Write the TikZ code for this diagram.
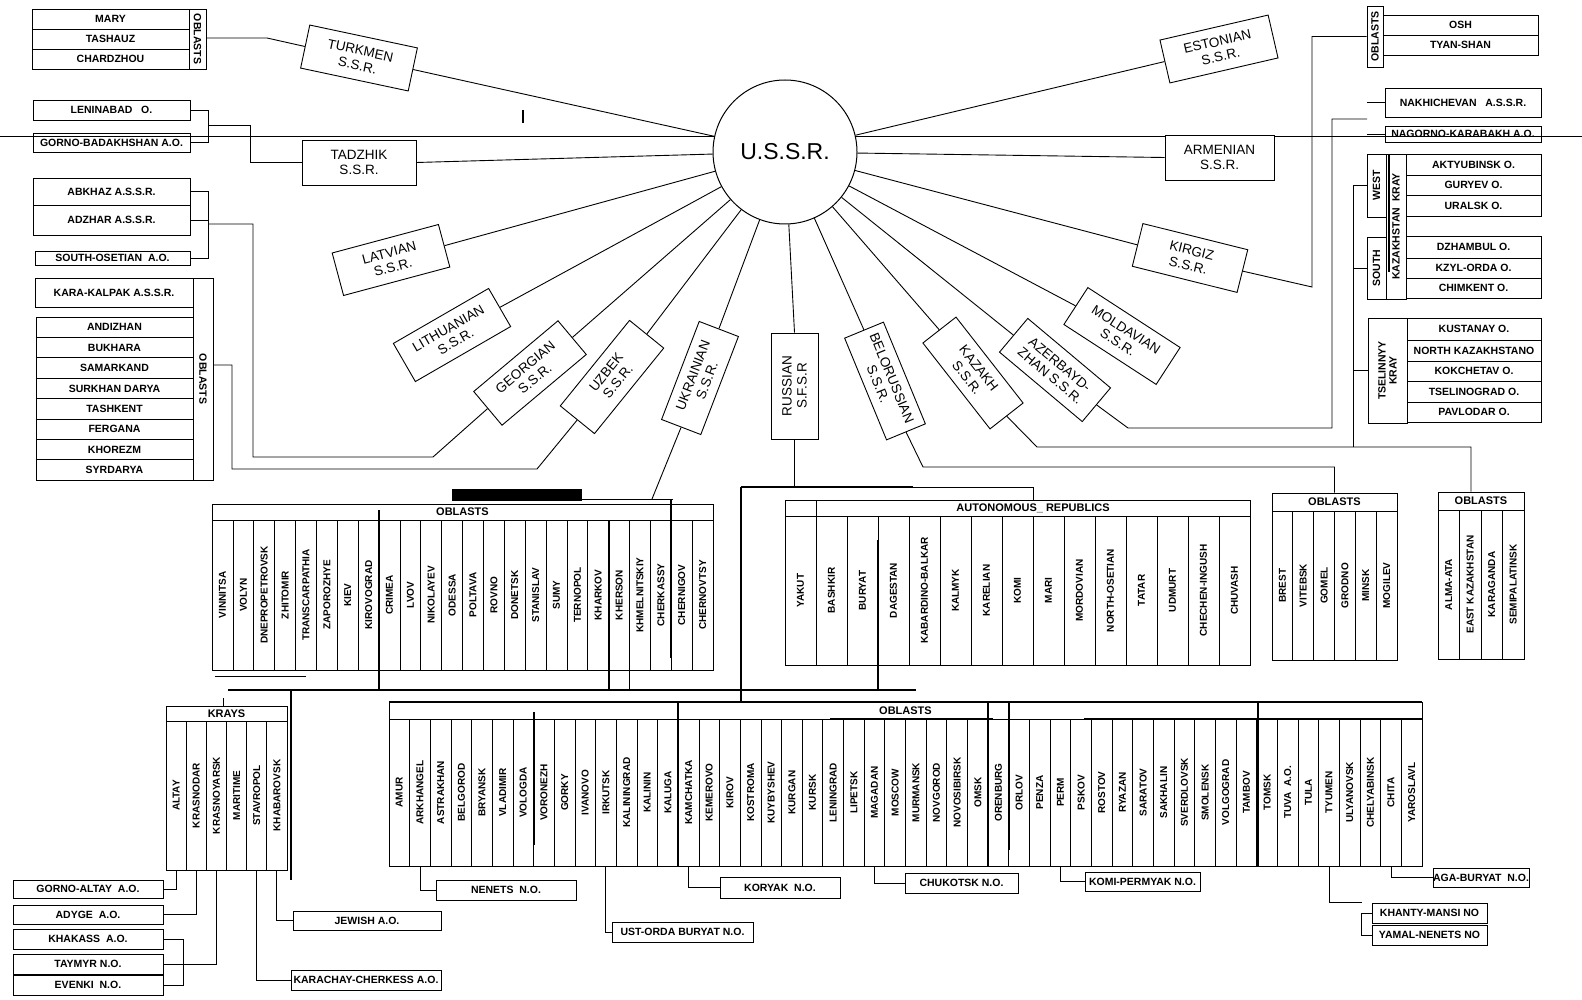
\documentclass[tikz,border=0pt]{standalone}
\usepackage{fontspec}
\setmainfont{Liberation Sans}
\usetikzlibrary{calc}
\tikzset{
  ln/.style={line width=0.9pt},
  thk/.style={line width=1.8pt},
  tb/.style={line width=0.75pt},
  ssr/.style={draw, line width=0.9pt, fill=white, minimum width=110pt, minimum height=44pt, inner sep=0pt, align=center, font=\fontsize{13.5}{15}\selectfont},
  hb/.style={draw, line width=0.75pt, inner sep=0pt, font=\bfseries\fontsize{10.5}{12}\selectfont},
  strip/.style={draw, line width=0.75pt, inner sep=0pt, align=center, font=\bfseries\fontsize{10.5}{11}\selectfont},
  vl/.style={inner sep=0pt, rotate=90, font=\bfseries\fontsize{10}{11}\selectfont},
  hdr/.style={inner sep=0pt, font=\bfseries\fontsize{11}{12}\selectfont},
}
\newcommand{\ubox}[6]{%
  \pgfmathsetmacro\myw{#4-#2}\pgfmathsetmacro\myh{#5-#3}%
  \pgfmathsetmacro\myx{(#2+#4)/2}\pgfmathsetmacro\myy{(#3+#5)/2}%
  \node[hb,minimum width=\myw pt,minimum height=\myh pt] (#1) at (\myx,\myy) {#6};}
\newcommand{\ustrip}[7]{%
  \pgfmathsetmacro\myw{#4-#2}\pgfmathsetmacro\myh{#5-#3}%
  \pgfmathsetmacro\myx{(#2+#4)/2}\pgfmathsetmacro\myy{(#3+#5)/2}%
  \node[strip,rotate=#7,minimum width=\myh pt,minimum height=\myw pt] (#1) at (\myx,\myy) {#6};}
\newcommand{\coltab}[8]{%
  \pgfmathsetmacro\myw{#3-#2}\pgfmathsetmacro\myh{#6-#4}%
  \pgfmathsetmacro\myx{(#2+#3)/2}\pgfmathsetmacro\myy{(#4+#6)/2}%
  \node[draw,tb,inner sep=0pt,minimum width=\myw pt,minimum height=\myh pt] (#1) at (\myx,\myy) {};
  \draw[tb] (#2,#5) -- (#3,#5);
  \pgfmathsetmacro\mycw{(#3-#2)/#7}%
  \foreach \lab [count=\i] in {#8} {
    \pgfmathsetmacro\xa{#2+\i*\mycw}
    \pgfmathsetmacro\xc{#2+(\i-0.5)*\mycw}
    \ifnum\i<#7 \draw[tb] (\xa,#5) -- (\xa,#6); \fi
    \node[vl] (#1-\i) at (\xc,{(#5+#6)/2}) {\lab};
    \coordinate (#1-b\i) at (\xc,#6);
  }
}
\begin{document}
\begin{tikzpicture}[x=1pt,y=-1pt]
\fill[white] (0,0) rectangle (1582,1000);
\useasboundingbox (0,0) rectangle (1582,1000);
% scan line
\draw[line width=0.5pt] (0,136) -- (1582,136);
\draw[line width=2pt] (523,110) -- (523,123);

% centre
\node[circle, draw, line width=1pt, fill=white, minimum size=144pt, inner sep=0pt, font=\fontsize{23}{26}\selectfont] (ussr) at (785,152) {U.S.S.R.};

% republics
\node[ssr, rotate=-12] (turk) at (359,58) {TURKMEN\\S.S.R.};
\node[ssr, minimum width=114pt, minimum height=45pt] (tadz) at (359,162.5) {TADZHIK\\S.S.R.};
\node[ssr, rotate=15] (latv) at (391,260) {LATVIAN\\S.S.R.};
\node[ssr, rotate=30] (lith) at (452,335) {LITHUANIAN\\S.S.R.};
\node[ssr, rotate=40] (geo) at (530,373) {GEORGIAN\\S.S.R.};
\node[ssr, rotate=51] (uzb) at (612,377) {UZBEK\\S.S.R.};
\node[ssr, rotate=69, minimum width=105pt, minimum height=42pt] (ukr) at (700,378) {UKRAINIAN\\S.S.R.};
\node[ssr, rotate=90, minimum width=106pt, minimum height=47pt] (rus) at (794.5,386) {RUSSIAN\\S.F.S.R};
\node[ssr, rotate=-67.6, minimum height=42pt] (belo) at (885,381) {BELORUSSIAN\\S.S.R.};
\node[ssr, rotate=-52, minimum width=109pt, minimum height=42pt] (kaz) at (973,373) {KAZAKH\\S.S.R.};
\node[ssr, rotate=-40, minimum width=108pt] (azer) at (1055,370) {AZERBAYD-\\ZHAN S.S.R.};
\node[ssr, rotate=-33] (mold) at (1122,336) {MOLDAVIAN\\S.S.R.};
\node[ssr, rotate=-14, minimum width=108pt] (kirg) at (1190,258) {KIRGIZ\\S.S.R.};
\node[ssr, minimum width=109pt, minimum height=45pt] (arm) at (1219.5,157.5) {ARMENIAN\\S.S.R.};
\node[ssr, rotate=13, minimum width=111pt] (est) at (1219,49) {ESTONIAN\\S.S.R.};

\foreach \n/\a in {turk/east,tadz/east,latv/east,lith/east,geo/east,uzb/east,ukr/east,rus/east,belo/west,kaz/west,azer/west,mold/west,kirg/west,arm/west,est/west}
  \draw[ln] (\n.\a) -- (ussr);

% ---- Turkmen
\ubox{mary}{32}{9}{189}{29}{MARY}
\ubox{tashauz}{32}{29}{189}{49}{TASHAUZ}
\ubox{chardzhou}{32}{49}{189}{69}{CHARDZHOU}
\ustrip{turkobl}{189}{9}{206}{69}{OBLASTS}{-90}
\draw[ln] (turk.west) -- (267,38) -- ($(turkobl.north)+(0,-1)$);

% ---- Tadzhik
\ubox{lenin}{33}{100}{190}{120}{LENINABAD~~~O.}
\ubox{gorno}{33}{133}{190}{152}{GORNO-BADAKHSHAN A.O.}
\draw[ln] (lenin.east) -- (208,110) -- (208,142.5) -- (gorno.east);
\draw[ln] (tadz.west) -- (250,162.5) -- (250,125) -- (208,125);

% ---- Georgian
\ubox{abkhaz}{33}{178}{190}{205}{ABKHAZ A.S.S.R.}
\ubox{adzhar}{33}{205}{190}{235}{ADZHAR A.S.S.R.}
\ubox{sosetia}{35}{251}{190}{265}{SOUTH-OSETIAN~~A.O.}
\draw[ln] (abkhaz.east) -- (208,191.5) -- (208,258) -- (sosetia.east);
\draw[ln] (adzhar.east) -- (208,220);
\draw[ln] (geo.west) -- (433,457) -- (253,457) -- (253,224) -- (208,224);

% ---- Uzbek
\ubox{karak}{35}{278}{193}{307}{KARA-KALPAK A.S.S.R.}
\foreach \lab [count=\i] in {ANDIZHAN,BUKHARA,SAMARKAND,SURKHAN DARYA,TASHKENT,FERGANA,KHOREZM,SYRDARYA} {
  \pgfmathsetmacro\ya{317+(\i-1)*20.4}\pgfmathsetmacro\yb{\ya+20.4}
  \ubox{uz\i}{36}{\ya}{193}{\yb}{\lab}
}
\ustrip{uzbobl}{193}{278}{213}{480}{OBLASTS}{-90}
\draw[ln] (uzb.west) -- (537,469) -- (232,469) -- (232,365) -- ($(uzbobl.north)+(0,-14)$);

% ---- Kirgiz
\ustrip{kirobl}{1367}{6}{1383}{67}{OBLASTS}{90}
\ubox{osh}{1383}{15}{1538}{35}{OSH}
\ubox{tyan}{1383}{35}{1538}{55}{TYAN-SHAN}
\draw[ln] (kirg.east) -- (1312,287) |- (kirobl.north);

% ---- Azerbaydzhan
\ubox{nakh}{1385}{88}{1541}{117}{NAKHICHEVAN~~~A.S.S.R.}
\ubox{nagorno}{1385}{126}{1541}{142}{NAGORNO-KARABAKH A.O.}
\draw[ln] (nakh.west) -- ++(-18,0);
\draw[ln] (nagorno.west) -- ++(-18,0);
\coordinate (azj) at (1367,119);
\draw[ln] (azer.east) -- (1128,428) -- (1332,428) |- (azj);

% ---- Kazakh krays
\ustrip{west}{1367}{154}{1386}{217}{WEST}{90}
\ustrip{south}{1367}{237}{1386}{299}{SOUTH}{90}
\ustrip{kkray}{1386}{154}{1406}{299}{KAZAKHSTAN~~KRAY}{90}
\draw[line width=2pt] (1389,154) -- (1389,272);
\ubox{aktyub}{1406}{154}{1541}{175}{AKTYUBINSK O.}
\ubox{guryev}{1406}{175}{1541}{195}{GURYEV O.}
\ubox{uralsk}{1406}{195}{1541}{216}{URALSK O.}
\ubox{dzham}{1406}{236}{1541}{258}{DZHAMBUL O.}
\ubox{kzyl}{1406}{258}{1541}{278}{KZYL-ORDA O.}
\ubox{chimk}{1406}{278}{1541}{298}{CHIMKENT O.}
\ustrip{tsel}{1368}{318}{1407}{423}{TSELINNYY\\KRAY}{90}
\ubox{kust}{1407}{318}{1541}{340}{KUSTANAY O.}
\ubox{nkaz}{1407}{340}{1541}{361}{NORTH KAZAKHSTANO}
\ubox{kokch}{1407}{361}{1541}{381}{KOKCHETAV O.}
\ubox{tselo}{1407}{381}{1541}{402}{TSELINOGRAD O.}
\ubox{pavl}{1407}{402}{1541}{422}{PAVLODAR O.}
\draw[ln] (1353,447) -- (1353,185.5) -- (west.north);
\draw[ln] (1353,268) -- (south.north);
\draw[ln] (1353,370.5) -- (tsel.north);

% ---- Ukraine table
\coltab{uko}{212}{713}{504}{520}{670}{24}{VINNITSA,VOLYN,DNEPROPETROVSK,ZHITOMIR,TRANSCARPATHIA,ZAPOROZHYE,KIEV,KIROVOGRAD,CRIMEA,LVOV,NIKOLAYEV,ODESSA,POLTAVA,ROVNO,DONETSK,STANISLAV,SUMY,TERNOPOL,KHARKOV,KHERSON,KHMELNITSKIY,CHERKASSY,CHERNIGOV,CHERNOVTSY}
\node[hdr] (uko-h) at (462.5,512) {OBLASTS};
\draw[ln] (ukr.west) -- (652,499);
\fill (452,489) rectangle (582,501);
\draw[ln] (582,499) -- (673,499);
\draw[thk] (671.3,499) -- (671.3,658);
\draw[thk] (608.6,520) -- (608.6,690);
\draw[thk] (629.5,520) -- (629.5,690);
\draw[thk] (379,510) -- (379,690);
\draw[ln] (215,676) -- (306,676);

% ---- Autonomous republics
\coltab{ar}{785}{1250}{500}{516}{665}{15}{YAKUT,BASHKIR,BURYAT,DAGESTAN,KABARDINO-BALKAR,KALMYK,KARELIAN,KOMI,MARI,MORDOVIAN,NORTH-OSETIAN,TATAR,UDMURT,CHECHEN-INGUSH,CHUVASH}
\draw[tb] (816,500) -- (816,516);
\node[hdr] (ar-h) at (1033,508) {AUTONOMOUS\_ REPUBLICS};
\draw[thk] (878,540) -- (878,690);

% ---- Belorussian / Kazakh oblasts
\coltab{bel}{1272}{1397}{493}{511}{660}{6}{BREST,VITEBSK,GOMEL,GRODNO,MINSK,MOGILEV}
\node[hdr] (bel-h) at (1334.5,502) {OBLASTS};
\coltab{kzo}{1438}{1524}{492}{510}{659}{4}{ALMA-ATA,EAST KAZAKHSTAN,KARAGANDA,SEMIPALATINSK}
\node[hdr] (kzo-h) at (1481,501) {OBLASTS};
\draw[ln] (belo.east) -- (923,467) -| (bel.north);
\draw[ln] (kaz.east) -- (1037,447) -| ($(kzo.north)+(-10,0)$);

% ---- Russian trunk
\draw[ln] (rus.west) -- (794.5,487);
\draw[thk] (741,487) -- (913,487);
\draw[ln] (913,487) -- (1033,487) -- ($(ar.north)+(15.5,0)$);
\draw[thk] (741,487) -- (741,702);
\draw[thk] (228,690) -- (916,690);

% ---- Krays
\coltab{kr}{166}{287}{706}{721}{870}{6}{ALTAY,KRASNODAR,KRASNOYARSK,MARITIME,STAVROPOL,KHABAROVSK}
\node[hdr] (kr-h) at (226.5,713.5) {KRAYS};
\draw[thk] (291,690) -- (291,880);
\draw[ln] (223,698) -- (223,706);
\ubox{galtay}{13}{880}{163}{898}{GORNO-ALTAY~~A.O.}
\ubox{adyge}{13}{905}{163}{924}{ADYGE~~A.O.}
\ubox{khakass}{13}{929}{163}{949}{KHAKASS~~A.O.}
\ubox{taymyr}{13}{954}{163}{974}{TAYMYR N.O.}
\ubox{evenki}{13}{975}{163}{995}{EVENKI~~N.O.}
\ubox{jewish}{293}{911}{441}{930}{JEWISH A.O.}
\ubox{karach}{291}{970}{441}{990}{KARACHAY-CHERKESS A.O.}
\draw[ln] (kr-b1) |- (galtay.east);
\draw[ln] (kr-b2) |- (adyge.east);
\draw[ln] (khakass.east) -- ++(20,0) |- (evenki.east);
\draw[ln] (taymyr.east) -- ++(20,0);
\draw[ln] (kr-b3) |- ($(taymyr.east)+(20,0)$);
\draw[ln] (kr-b5) |- (karach.west);
\draw[ln] (kr-b6) |- (jewish.west);

% ---- Russian oblasts
\coltab{rob}{389}{1422}{702}{719}{866}{50}{AMUR,ARKHANGEL,ASTRAKHAN,BELGOROD,BRYANSK,VLADIMIR,VOLOGDA,VORONEZH,GORKY,IVANOVO,IRKUTSK,KALININGRAD,KALININ,KALUGA,KAMCHATKA,KEMEROVO,KIROV,KOSTROMA,KUYBYSHEV,KURGAN,KURSK,LENINGRAD,LIPETSK,MAGADAN,MOSCOW,MURMANSK,NOVGOROD,NOVOSIBIRSK,OMSK,ORENBURG,ORLOV,PENZA,PERM,PSKOV,ROSTOV,RYAZAN,SARATOV,SAKHALIN,SVERDLOVSK,SMOLENSK,VOLGOGRAD,TAMBOV,TOMSK,TUVA~~A.O.,TULA,TYUMEN,ULYANOVSK,CHELYABINSK,CHITA,YAROSLAVL}
\node[hdr] (rob-h) at (905.5,710.5) {OBLASTS};
\draw[thk] (389,702) -- (1422,702);
\draw[thk] (678.2,702) -- (678.2,866);
\draw[thk] (988.2,702) -- (988.2,866);
\draw[thk] (1257.7,702) -- (1257.7,866);
\draw[thk] (533.6,712) -- (533.6,845);
\draw[thk] (1008.8,702) -- (1008.8,850);
\draw[thk] (830,719) -- (993,719);
\draw[thk] (1084,719) -- (1422,719);

\ubox{nenets}{436}{880}{576}{900}{NENETS~~N.O.}
\ubox{ustorda}{612}{922}{753}{942}{UST-ORDA BURYAT N.O.}
\ubox{koryak}{720}{877}{840}{898}{KORYAK~~N.O.}
\ubox{chukotsk}{905}{873}{1018}{893}{CHUKOTSK N.O.}
\ubox{komiperm}{1085}{872}{1200}{891}{KOMI-PERMYAK N.O.}
\ubox{agaburyat}{1435}{868}{1527}{887}{AGA-BURYAT~~N.O.}
\ubox{khanty}{1372}{903}{1487}{923}{KHANTY-MANSI NO}
\ubox{yamal}{1372}{925}{1487}{945}{YAMAL-NENETS NO}
\draw[ln] (rob-b2) |- (nenets.west);
\draw[ln] (rob-b11) |- (ustorda.west);
\draw[ln] (rob-b15) |- (koryak.west);
\draw[ln] (rob-b24) |- (chukotsk.west);
\draw[ln] (rob-b33) |- (komiperm.west);
\draw[ln] (rob-b49) |- (agaburyat.west);
\draw[ln] (khanty.west) -- ++(-10,0) |- (yamal.west);
\draw[ln] (rob-b46) |- ($(khanty.west)+(-10,-11)$);
\end{tikzpicture}
\end{document}
